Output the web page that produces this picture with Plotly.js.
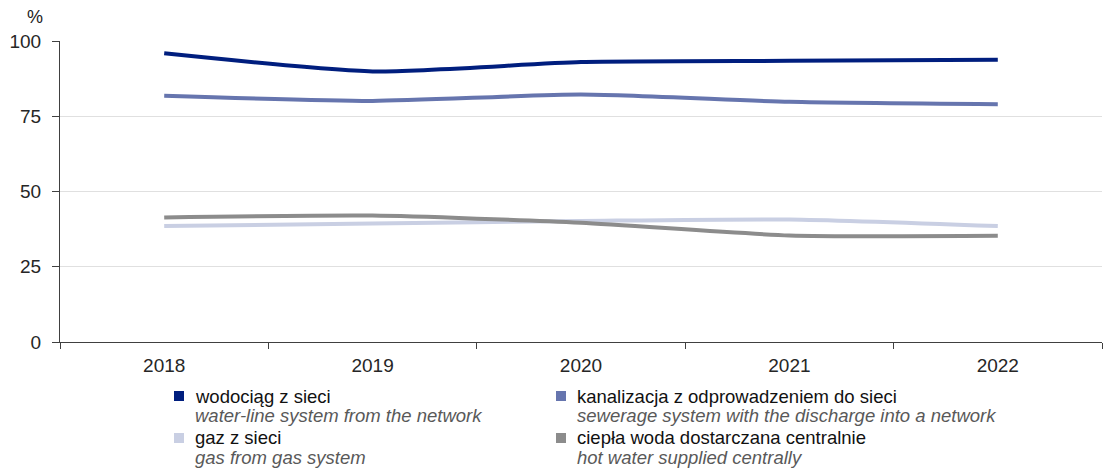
<!DOCTYPE html>
<html>
<head>
<meta charset="utf-8">
<script src="https://cdn.plot.ly/plotly-3.0.1.min.js"></script>
<style>
  html, body { margin: 0; padding: 0; background: #fff; }
  #chart { width: 1103px; height: 475px; }
</style>
</head>
<body>
<div id="chart"></div>
<script>
// ---- data ----
const years = ['2018', '2019', '2020', '2021', '2022'];
const wodociag = [95.9, 89.9, 93.0, 93.4, 93.8];
const kanalizacja = [81.8, 80.1, 82.2, 79.8, 79.0];
const gaz = [38.5, 39.4, 40.2, 40.7, 38.5];
const cieplaWoda = [41.4, 42.0, 39.6, 35.4, 35.3];

const seriesNamesPl = ['wodociąg z sieci', 'kanalizacja z odprowadzeniem do sieci', 'gaz z sieci', 'ciepła woda dostarczana centralnie'];
const seriesNamesEn = ['water-line system from the network', 'sewerage system with the discharge into a network', 'gas from gas system', 'hot water supplied centrally'];
const seriesColors = ['#001E7E', '#6675AE', '#C9CFE3', '#8C8C8C'];
const seriesValues = [wodociag, kanalizacja, gaz, cieplaWoda];
const yTicks = [0, 25, 50, 75, 100];

const FONT = 'Liberation Sans, Arial, sans-serif';

const traces = seriesValues.map((vals, i) => ({
  type: 'scatter',
  mode: 'lines',
  x: years,
  y: vals,
  name: seriesNamesPl[i],
  line: { color: seriesColors[i], width: 4, shape: 'spline', smoothing: 0.6 },
  showlegend: false,
  hoverinfo: 'skip'
}));
// draw order: light ones below
const ordered = [traces[2], traces[3], traces[1], traces[0]];

// custom two-column legend (pixel anchors)
const legendPos = [
  { x: 174, y: 396 },
  { x: 556, y: 396 },
  { x: 174, y: 438 },
  { x: 556, y: 438 }
];
const W = 1103, H = 475;
const ml = 60, mr = 1, mt = 41, mb = 133;
const pw = W - ml - mr, ph = H - mt - mb;
const toPX = x => (x - ml) / pw;
const toPY = y => (H - mb - y) / ph;
const annotations = [];
const shapes = [];
legendPos.forEach((p, i) => {
  shapes.push({
    type: 'rect', xref: 'paper', yref: 'paper',
    x0: toPX(p.x), x1: toPX(p.x + 10),
    y0: toPY(p.y + 5), y1: toPY(p.y - 5),
    fillcolor: seriesColors[i], line: { width: 0 }
  });
  annotations.push({
    xref: 'paper', yref: 'paper', x: toPX(p.x + 19), y: toPY(p.y),
    xanchor: 'left', yanchor: 'middle', showarrow: false,
    text: seriesNamesPl[i], font: { family: FONT, size: 18.5, color: '#111' }
  });
  annotations.push({
    xref: 'paper', yref: 'paper', x: toPX(p.x + 19), y: toPY(p.y + 19),
    xanchor: 'left', yanchor: 'middle', showarrow: false,
    text: '<i>' + seriesNamesEn[i] + '</i>', font: { family: FONT, size: 18.5, color: '#595959' }
  });
});
annotations.push({
  xref: 'paper', yref: 'paper', x: toPX(45), y: toPY(17),
  xanchor: 'right', yanchor: 'middle', showarrow: false,
  text: '%', font: { family: FONT, size: 18, color: '#222' }
});

const layout = {
  width: W, height: H,
  margin: { l: ml, r: mr, t: mt, b: mb, pad: 0 },
  paper_bgcolor: '#fff', plot_bgcolor: '#fff',
  showlegend: false,
  font: { family: FONT, size: 19, color: '#262626' },
  xaxis: {
    type: 'category',
    range: [-0.5, 4.5],
    tickson: 'boundaries',
    ticks: 'outside', ticklen: 6, tickcolor: '#404040', tickwidth: 1,
    ticklabelstandoff: 6,
    showline: true, linecolor: '#404040', linewidth: 1,
    showgrid: false, zeroline: false,
    tickfont: { family: FONT, size: 19, color: '#262626' },
    fixedrange: true
  },
  yaxis: {
    range: [0, 100],
    tickvals: yTicks,
    ticktext: yTicks.map(String),
    ticks: 'outside', ticklen: 7, tickcolor: '#404040', tickwidth: 1,
    ticklabelstandoff: 7,
    showline: true, linecolor: '#404040', linewidth: 1,
    showgrid: true, gridcolor: '#E0E0E0', gridwidth: 1,
    zeroline: false,
    tickfont: { family: FONT, size: 19, color: '#262626' },
    fixedrange: true
  },
  annotations: annotations,
  shapes: shapes
};

Plotly.newPlot('chart', ordered, layout, { displayModeBar: false, staticPlot: true });
</script>
</body>
</html>
